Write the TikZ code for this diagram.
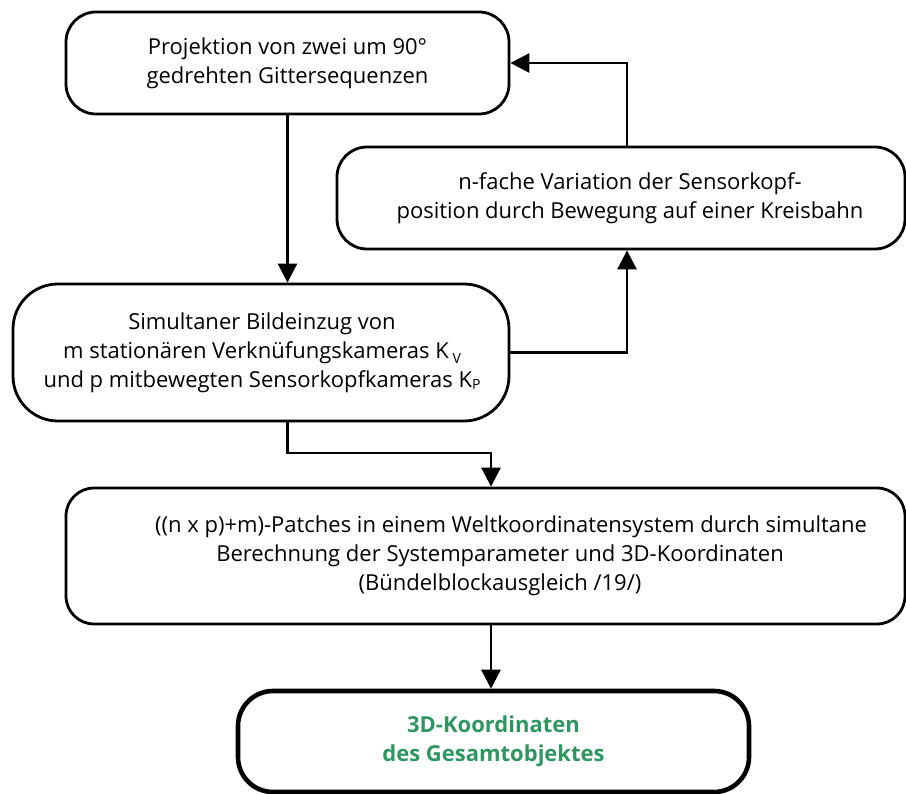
\documentclass[tikz,border=0pt]{standalone}
\usepackage{fontspec}
\setmainfont{Open Sans}
\usetikzlibrary{arrows.meta}
\definecolor{resgreen}{RGB}{46,150,96}
\newcommand{\subtxt}[1]{{\fontsize{14}{14}\selectfont #1}}
\begin{document}
\begin{tikzpicture}[x=1pt,y=-1pt,
  every node/.style={font=\fontsize{22}{29}\selectfont},
  stepbox/.style={draw, line width=2.8pt, rounded corners=30pt, inner sep=0pt},
  txt/.style={align=center, inner sep=0pt},
  flow/.style={line width=2.8pt, -{Triangle[length=19pt,width=19pt]}}]
\useasboundingbox (0,0) rectangle (906,794);

% process boxes
\node[stepbox, minimum width=443pt, minimum height=102pt] (b1) at (287.5,63) {};
\node[txt] (t1) at (b1) {Projektion von zwei um 90°\\gedrehten Gittersequenzen};

\node[stepbox, minimum width=568pt, minimum height=102pt] (b2) at (621,198) {};
\node[txt] (t2) at (630,198) {n-fache Variation der Sensorkopf-\\position durch Bewegung auf einer Kreisbahn};

\node[stepbox, rounded corners=45pt, minimum width=496pt, minimum height=137pt] (b3) at (261,352.5) {};
\node[txt] (t3) at (262,352.5) {Simultaner Bildeinzug von\\
  m stationären Verknüfungskameras K\,\raisebox{-5pt}{\subtxt{V}}\\
  und p mitbewegten Sensorkopfkameras K\raisebox{-2pt}{\subtxt{P}}};

\node[stepbox, rounded corners=28pt, minimum width=839pt, minimum height=136pt] (b4) at (485.5,556) {};
\node[txt] (t4) at (500,556) {\hspace*{22pt}((n x p)+m)-Patches in einem Weltkoordinatensystem durch simultane\\
  Berechnung der Systemparameter und 3D-Koordinaten\\
  (Bündelblockausgleich /19/)};

\node[stepbox, line width=4.6pt, rounded corners=35pt, minimum width=511pt, minimum height=101pt] (b5) at (493.5,741.5) {};
\node[txt, text=resgreen, font=\fontsize{22}{29}\selectfont\bfseries] (t5) at (b5) {3D-Koordinaten\\des Gesamtobjektes};

% connector routing points
\coordinate (xr) at (627,0);
\coordinate (j) at (491,453);

% connectors
\draw[flow] (b1.south) -- (b1.south |- b3.north);
\draw[flow] (b3.east) -| (xr |- b2.south);
\draw[flow] (xr |- b2.north) |- (b1.east);
\draw[flow] (b3.south -| b1.south) |- (j) -- (j |- b4.north);
\draw[flow] (j |- b4.south) -- (j |- b5.north);
\end{tikzpicture}
\end{document}
